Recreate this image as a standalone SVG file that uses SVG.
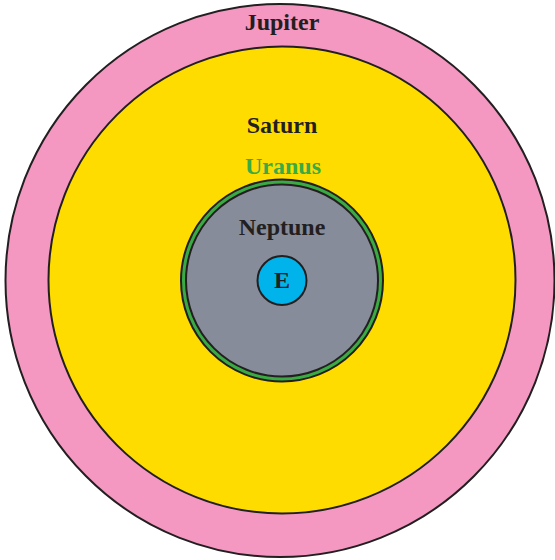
<svg xmlns="http://www.w3.org/2000/svg" width="555" height="560" viewBox="0 0 555 560">
<style>
.lbl{font-family:"Liberation Serif","Times New Roman",serif;font-weight:bold;font-size:24px;text-anchor:middle;fill:#231f20}
.ring{stroke:#231f20;stroke-width:2}
</style>
<rect width="555" height="560" fill="#ffffff"/>
<g id="jupiter">
<ellipse class="ring" cx="280" cy="280.5" rx="274.5" ry="276.5" fill="#f498c1"/>
<text class="lbl" x="282" y="30">Jupiter</text>
</g>
<g id="saturn">
<circle class="ring" cx="282" cy="280" r="233.5" fill="#ffdc00"/>
<text class="lbl" x="282" y="133">Saturn</text>
</g>
<g id="uranus">
<circle class="ring" cx="282" cy="280.5" r="101" fill="#3aaa43"/>
<text class="lbl" x="283" y="174" style="fill:#3aaa43">Uranus</text>
</g>
<g id="neptune">
<circle class="ring" cx="282" cy="280.5" r="96" fill="#878c9a"/>
<text class="lbl" x="282" y="235">Neptune</text>
</g>
<g id="earth">
<circle class="ring" cx="282" cy="280.5" r="24.5" fill="#00b3ea"/>
<text class="lbl" x="282" y="288">E</text>
</g>
<g id="connectors"/>
</svg>
